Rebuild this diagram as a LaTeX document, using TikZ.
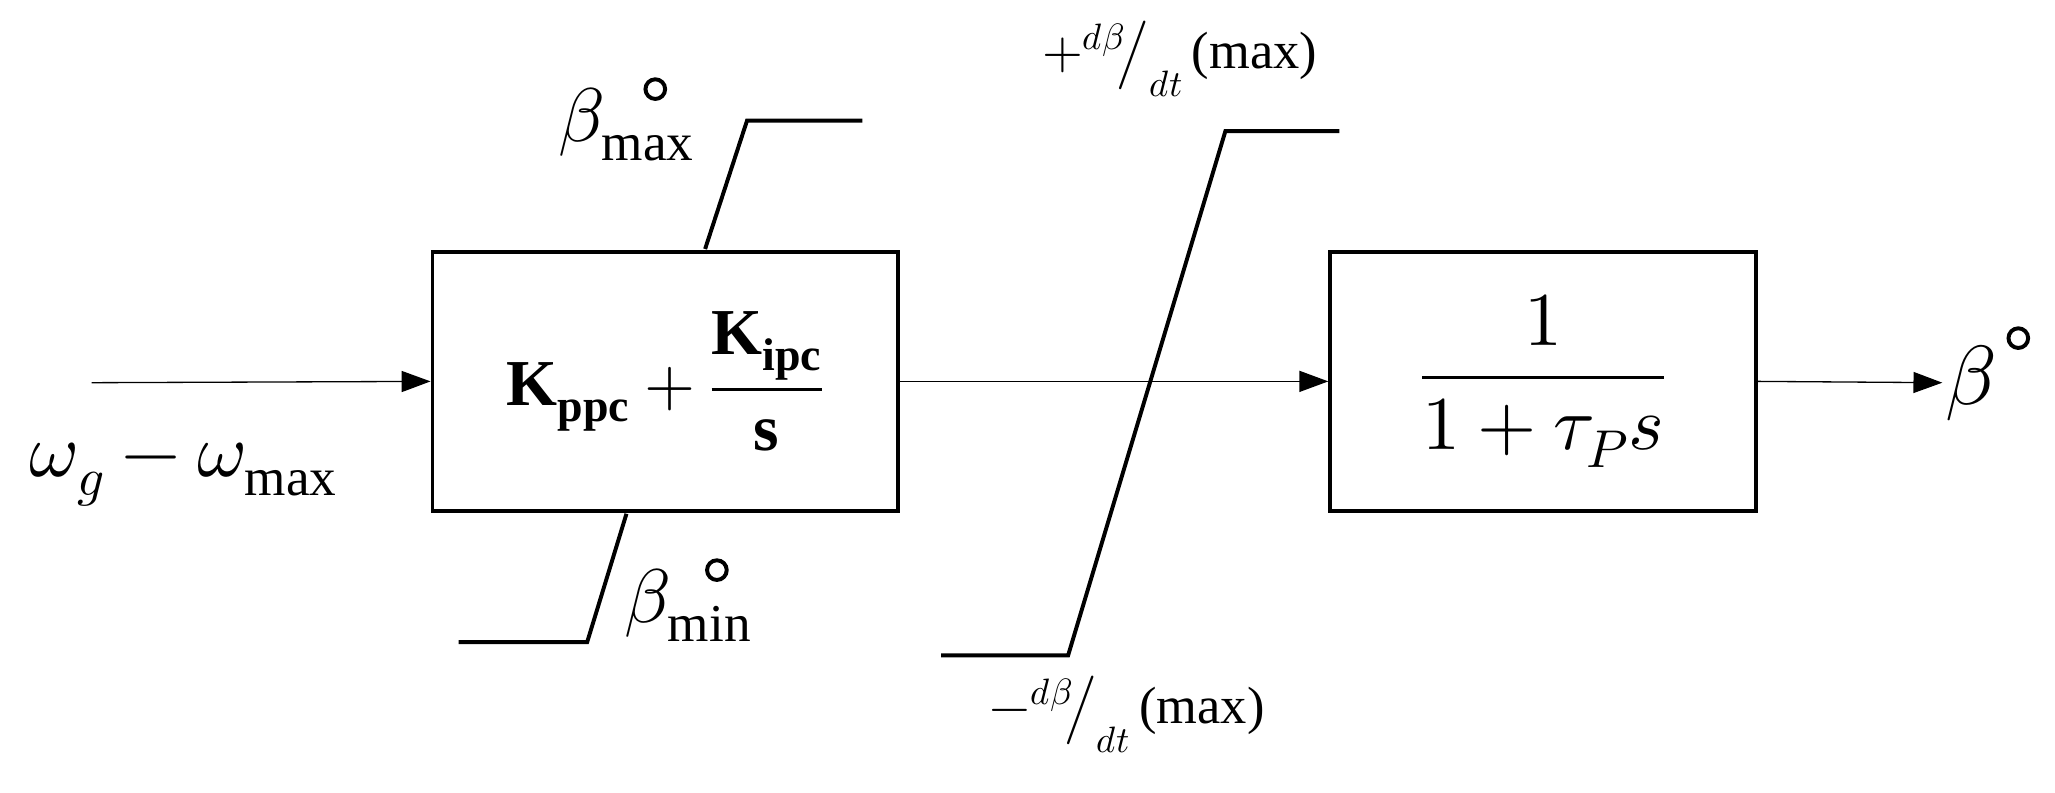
\documentclass[tikz,border=0pt]{standalone}
\usepackage{fontspec}
\setmainfont{Liberation Serif}
\usepackage{unicode-math}
\setmathfont{Latin Modern Math}
\usetikzlibrary{arrows.meta}
\begin{document}
\begin{tikzpicture}[x=1pt,y=-1pt,
  blk/.style={draw,line width=3pt,minimum width=355pt,minimum height=198pt,inner sep=0},
  sig/.style={line width=1pt,-{Triangle[length=22pt,width=16pt]}},
  lim/.style={line width=3pt},
  degc/.style={draw,circle,line width=3pt,minimum size=15pt,inner sep=0},
  lbl/.style={inner sep=0,font=\fontsize{50}{50}\selectfont}]
\useasboundingbox (0,0) rectangle (1568,605);
\node[blk] (b1) at (507.5,291) {};
\node[blk,minimum width=325pt] (b2) at (1177.5,291) {};
\node[lbl] at (b1) {$\mathbf{K}_{\mathbf{ppc}}+\dfrac{\mathbf{K}_{\mathbf{ipc}}}{\mathbf{s}}$};
\node[lbl,font=\fontsize{58}{58}\selectfont] at (b2) {$\dfrac{1}{1+\tau_P s}$};
\coordinate (in) at (70,292);
\draw[sig] (in) -- (b1.west);
\draw[sig] (b1.east) -- (b2.west);
\coordinate (out) at (1482,292);
\draw[sig] (b2.east) -- (out);
\node[lbl,anchor=west,font=\fontsize{64}{64}\selectfont] (beta) at (1484,292) {$\beta$};
\node[degc] at (1540,258) {};
\node[lbl,font=\fontsize{58}{58}\selectfont] (w) at (140,362) {$\omega_g-\omega_{\mathrm{max}}$};
\draw[lim] (538,190) -- (570,92) -- (658,92);
\draw[lim] (478,392) -- (448,490) -- (350,490);
\node[lbl,font=\fontsize{58}{58}\selectfont] (bmax) at (478,95) {$\beta_{\mathrm{max}}$};
\node[degc] at (500,68) {};
\node[lbl,font=\fontsize{58}{58}\selectfont] (bmin) at (525,462) {$\beta_{\mathrm{min}}$};
\node[degc] at (547,435) {};
\draw[lim] (718,500) -- (815,500) -- (935,100) -- (1022,100);
\node[lbl,font=\fontsize{40}{40}\selectfont] (rp) at (900,45) {$+{}^{d\beta}\!\big/_{dt}$\,(max)};
\node[lbl,font=\fontsize{40}{40}\selectfont] (rm) at (860,545) {$-{}^{d\beta}\!\big/_{dt}$\,(max)};
\end{tikzpicture}
\end{document}
